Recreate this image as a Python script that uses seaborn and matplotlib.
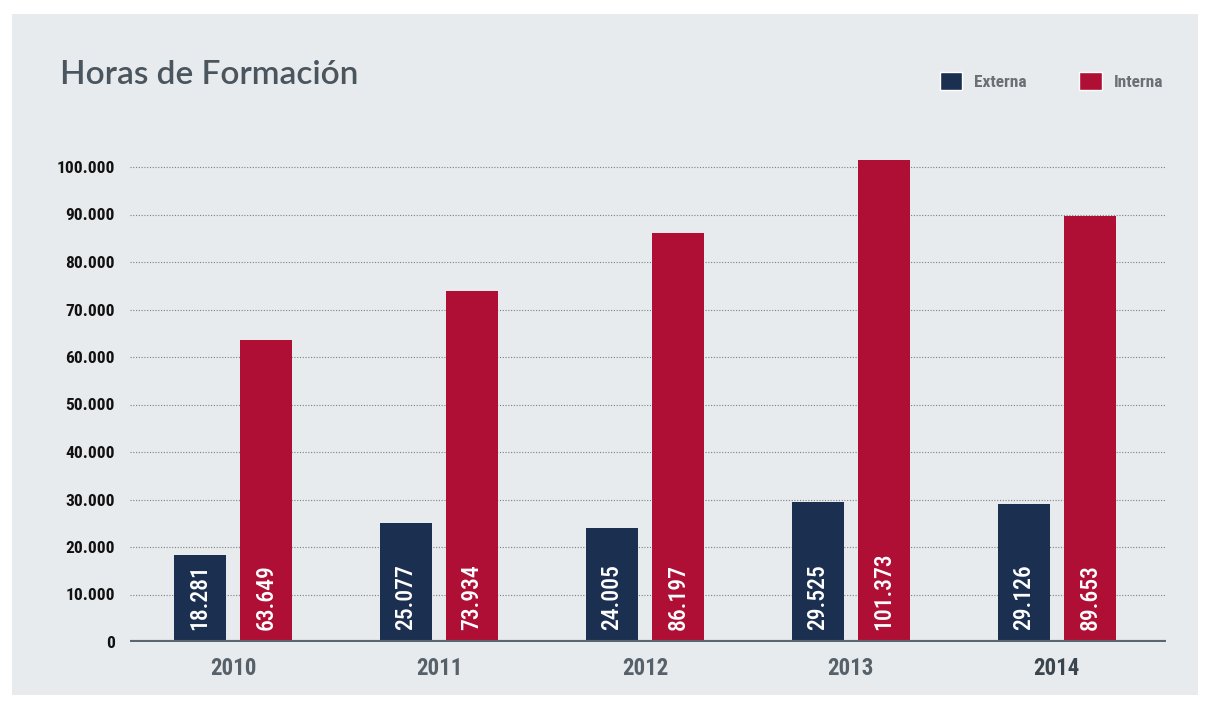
import matplotlib
matplotlib.use("Agg")
from matplotlib import pyplot as plt
from matplotlib.patches import Rectangle
import pandas as pd
import seaborn as sns

years = ["2010", "2011", "2012", "2013", "2014"]
externa = [18281, 25077, 24005, 29525, 29126]
interna = [63649, 73934, 86197, 101373, 89653]
series = ["Externa", "Interna"]
yticks = [0, 10000, 20000, 30000, 40000, 50000, 60000, 70000, 80000, 90000, 100000]

NAVY = "#1B2F50"
RED = "#AF0E35"
BG = "#E8EBEE"
FONT = ["Roboto Condensed", "Liberation Sans Narrow", "Roboto", "DejaVu Sans"]


def fmt_es(v):
    """Spanish thousands separator"""
    return "{:,}".format(int(v)).replace(",", ".")


df = pd.DataFrame({
    "year": years * 2,
    "serie": [series[0]] * len(years) + [series[1]] * len(years),
    "horas": externa + interna,
})

sns.set_theme(style="white")
plt.rcParams["font.family"] = FONT

fig = plt.figure(figsize=(12.1, 7.09), dpi=100)
fig.patch.set_facecolor("white")
fig.add_artist(Rectangle((12 / 1210, 14 / 709), 1186 / 1210, 681 / 709,
                         transform=fig.transFigure, facecolor=BG,
                         edgecolor="none", zorder=0))

ax = fig.add_axes([130 / 1210, 1 - 642 / 709, 1036 / 1210, (642 - 143.25) / 709])
ax.patch.set_alpha(0)

sns.barplot(data=df, x="year", y="horas", hue="serie",
            palette=[NAVY, RED], width=0.64, gap=0.21, linewidth=0,
            saturation=1, legend=False, ax=ax, zorder=3)

ax.set_xlim(-0.5, 4.53)
ax.set_ylim(0, 105000)
ax.set_yticks(yticks)
ax.set_yticklabels([fmt_es(t) for t in yticks], fontsize=12.5,
                   fontweight="bold", color="#111111")
ax.tick_params(axis="y", length=0, pad=11)
ax.tick_params(axis="x", length=0, pad=11)
for i, lab in enumerate(ax.get_xticklabels()):
    lab.set_fontsize(16.5)
    lab.set_fontweight("bold")
    lab.set_color("#3A454D" if i == len(years) - 1 else "#56616A")
ax.set_xlabel("")
ax.set_ylabel("")

for t in yticks[1:]:
    ax.axhline(t, color="#7A8086", lw=0.8, ls=(0, (1, 1.5)), zorder=1)
ax.axhline(0, color="#5B666E", lw=3, zorder=4)
for s in ax.spines.values():
    s.set_visible(False)

# value labels inside bars
for bar in ax.patches:
    h = bar.get_height()
    if h <= 0:
        continue
    ax.text(bar.get_x() + bar.get_width() / 2, 2600, fmt_es(h),
            rotation=90, ha="center", va="bottom", color="white",
            fontsize=17, fontweight="medium", zorder=5)

fig.text(60 / 1210, 1 - 75 / 709, "Horas de Formación", fontsize=24,
         color="#4A555E", va="center", ha="left", fontweight="semibold",
         family=["Lato", "Noto Sans", "DejaVu Sans"])

# legend
handles = [Rectangle((0, 0), 1, 1, facecolor=c) for c in (NAVY, RED)]
leg = fig.legend(handles, series, loc="center right",
                 bbox_to_anchor=(1172 / 1210, 1 - 81 / 709), ncol=2,
                 frameon=False, handlelength=1.3, handleheight=1.3,
                 handletextpad=0.7, columnspacing=3.0, borderpad=0,
                 prop={"family": FONT, "size": 12.5, "weight": "bold"})
for t in leg.get_texts():
    t.set_color("#6B7075")

fig.savefig("out.png", dpi=100, facecolor="white")
